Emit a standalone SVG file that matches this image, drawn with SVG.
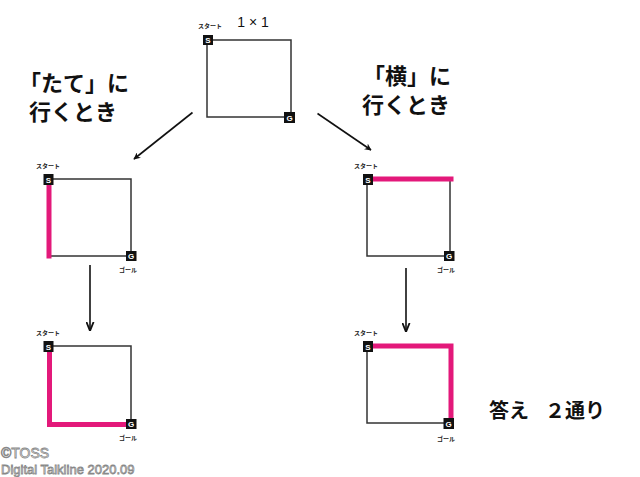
<svg xmlns="http://www.w3.org/2000/svg" width="640" height="477" viewBox="0 0 640 477">
<defs>
<style>
.sq{fill:none;stroke:#333;stroke-width:1.5}
.pk{fill:none;stroke:#e3197a;stroke-width:5;stroke-linecap:square;stroke-linejoin:miter}
.box{fill:#111}
.bl{fill:#fff;font-family:"Liberation Sans",sans-serif;font-size:8px;font-weight:bold;text-anchor:middle}
.sm{fill:#222;font-family:"Noto Sans CJK JP",sans-serif;font-size:6px;font-weight:bold;text-anchor:middle}
.big{fill:#111;font-family:"Noto Sans CJK JP",sans-serif;font-size:22px;font-weight:bold}
.ar{stroke:#111;stroke-width:1.6;fill:none}
</style>
<marker id="ah" viewBox="0 0 10 10" refX="9" refY="5" markerWidth="7" markerHeight="7" markerUnits="userSpaceOnUse" orient="auto">
<path d="M0,0 L10,5 L0,10 L3,5 Z" fill="#111"/>
</marker>
<marker id="ah2" viewBox="0 0 10 10" refX="9" refY="5" markerWidth="9" markerHeight="9" markerUnits="userSpaceOnUse" orient="auto">
<path d="M0,1 L10,5 L0,9" fill="none" stroke="#111" stroke-width="2"/>
</marker>
</defs>
<rect width="640" height="477" fill="#fff"/>

<g id="connectors">
<line class="ar" x1="192.5" y1="112.5" x2="134" y2="159" marker-end="url(#ah)"/>
<line class="ar" x1="317.5" y1="113.5" x2="371" y2="150" marker-end="url(#ah)"/>
<line class="ar" x1="90" y1="265" x2="90" y2="330" marker-end="url(#ah2)"/>
<line class="ar" x1="406" y1="268" x2="406" y2="331" marker-end="url(#ah2)"/>
</g>

<g id="top">
<text x="253" y="27" font-family="Liberation Sans,sans-serif" font-size="14" fill="#111" text-anchor="middle">1 × 1</text>
<rect class="sq" x="207" y="40" width="84" height="77"/>
<text class="sm" x="210" y="28">スタート</text>
<rect class="box" x="203" y="35" width="10" height="10"/><text class="bl" x="208" y="43">S</text>
<rect class="box" x="284" y="112" width="11" height="11"/><text class="bl" x="289.5" y="120.5">G</text>
</g>

<g id="label-tate">
<text class="big" x="19" y="91">「たて」に</text>
<text class="big" x="29" y="120">行くとき</text>
</g>
<g id="label-yoko">
<text class="big" x="363" y="84">「横」に</text>
<text class="big" x="362" y="113">行くとき</text>
</g>

<g id="mid-left">
<rect class="sq" x="49" y="179" width="82" height="77"/>
<line class="pk" x1="49" y1="185" x2="49" y2="256"/>
<text class="sm" x="48" y="168">スタート</text>
<rect class="box" x="43.5" y="174" width="10" height="11"/><text class="bl" x="48.5" y="182.5">S</text>
<rect class="box" x="126" y="251" width="10.5" height="10"/><text class="bl" x="131.2" y="259">G</text>
<text class="sm" x="128" y="272">ゴール</text>
</g>

<g id="mid-right">
<rect class="sq" x="367" y="179" width="83" height="77"/>
<line class="pk" x1="373" y1="179" x2="451" y2="179"/>
<text class="sm" x="366" y="168">スタート</text>
<rect class="box" x="363" y="174" width="10" height="11"/><text class="bl" x="368" y="182.5">S</text>
<rect class="box" x="444" y="251" width="10.5" height="10"/><text class="bl" x="449.2" y="259">G</text>
<text class="sm" x="446" y="272">ゴール</text>
</g>

<g id="bot-left">
<rect class="sq" x="49" y="346" width="82" height="78"/>
<polyline class="pk" points="49.5,352 49.5,424.5 126,424.5"/>
<text class="sm" x="48" y="335">スタート</text>
<rect class="box" x="43.5" y="341" width="10" height="11"/><text class="bl" x="48.5" y="349.5">S</text>
<rect class="box" x="126" y="419" width="10.5" height="10"/><text class="bl" x="131.2" y="427">G</text>
<text class="sm" x="128" y="440">ゴール</text>
</g>

<g id="bot-right">
<rect class="sq" x="367" y="346" width="84" height="77"/>
<polyline class="pk" points="373,346 451,346 451,418"/>
<text class="sm" x="366" y="335">スタート</text>
<rect class="box" x="363" y="341" width="10" height="11"/><text class="bl" x="368" y="349.5">S</text>
<rect class="box" x="443.5" y="418" width="10.5" height="11"/><text class="bl" x="448.7" y="426.5">G</text>
<text class="sm" x="446" y="441">ゴール</text>
</g>

<g id="answer">
<text x="489" y="418" font-family="Noto Sans CJK JP,sans-serif" font-size="20" font-weight="bold" fill="#111">答え<tspan x="545">２通り</tspan></text>
</g>

<g id="copyright" font-family="Liberation Sans,sans-serif" font-size="14" fill="#fff" stroke="#888" stroke-width="0.8">
<text x="1" y="458">©TOSS</text>
<text x="1" y="474" font-size="13">Digital Talkline 2020.09</text>
</g>
</svg>
